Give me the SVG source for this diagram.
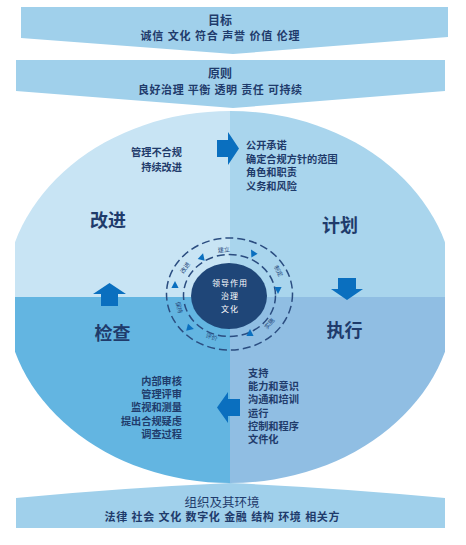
<svg xmlns="http://www.w3.org/2000/svg" width="466" height="545" viewBox="0 0 466 545">
<style>
text{font-family:"Liberation Sans","Noto Sans CJK SC",sans-serif;fill:#1f3b6b}
.ban{fill:#a0d0eb}
.t{font-size:12px;font-weight:700;text-anchor:middle}
.st{font-size:11px;font-weight:700;text-anchor:middle}
.big{font-size:18px;font-weight:700;text-anchor:middle}
.li{font-size:10.2px;font-weight:700}
.r{text-anchor:end}
.arr{fill:#0a6fbf}
.ring{fill:none;stroke:#2b4d80;stroke-width:1.5;stroke-dasharray:8 4}
.rl{font-size:6px;fill:#23467a;text-anchor:middle}
.ct{font-size:8px;fill:#ffffff;text-anchor:middle;letter-spacing:1px}
.tri{fill:#0a6fbf}
</style>
<defs>
<clipPath id="clip"><rect x="15" y="100" width="430" height="400"/></clipPath>
<path id="tr" d="M4,0 L-3,-3.6 L-3,3.6 Z"/>
</defs>
<rect width="466" height="545" fill="#ffffff"/>
<g id="goal">
<polygon class="ban" points="21,7 448,7 448,37 233,54 21,38"/>
<text class="t" x="220" y="24.5">目标</text>
<text class="st" x="220" y="40" textLength="159" lengthAdjust="spacing">诚信 文化 符合 声誉 价值 伦理</text>
</g>
<g id="principle">
<polygon class="ban" points="16,60 445,60 445,91 233,108 16,91"/>
<text class="t" x="220" y="77.5">原则</text>
<text class="st" x="220" y="94" textLength="164" lengthAdjust="spacing">良好治理 平衡 透明 责任 可持续</text>
</g>
<g id="context">
<path class="ban" d="M16,498 Q120,488 230,483 Q340,488 445,498 L445,528 L16,528 Z"/>
<text x="222" y="506.5" style="font-size:12.5px;text-anchor:middle">组织及其环境</text>
<text class="st" x="222" y="521" textLength="235" lengthAdjust="spacing">法律 社会 文化 数字化 金融 结构 环境 相关方</text>
</g>
<g id="cycle" clip-path="url(#clip)">
<path d="M230,297 L5,297 A225,186 0 0 1 230,111 Z" fill="#c8e4f4"/>
<path d="M230,297 L230,111 A225,186 0 0 1 455,297 Z" fill="#a9d5ed"/>
<path d="M230,297 L455,297 A225,186 0 0 1 230,483 Z" fill="#90bee3"/>
<path d="M230,297 L230,483 A225,186 0 0 1 5,297 Z" fill="#63b5e1"/>
</g>
<g id="improve">
<text class="big" x="108" y="226.5">改进</text>
<text class="li r" x="182" y="156">管理不合规</text>
<text class="li r" x="182" y="171">持续改进</text>
</g>
<g id="plan">
<text class="big" x="340" y="231.5">计划</text>
<text class="li" x="246" y="149">公开承诺</text>
<text class="li" x="246" y="162.5">确定合规方针的范围</text>
<text class="li" x="246" y="176">角色和职责</text>
<text class="li" x="246" y="189.5">义务和风险</text>
</g>
<g id="do">
<text class="big" x="344.5" y="336.5">执行</text>
<text class="li" x="248" y="377">支持</text>
<text class="li" x="248" y="390.2">能力和意识</text>
<text class="li" x="248" y="403.4">沟通和培训</text>
<text class="li" x="248" y="416.6">运行</text>
<text class="li" x="248" y="429.8">控制和程序</text>
<text class="li" x="248" y="443">文件化</text>
</g>
<g id="check">
<text class="big" x="112.5" y="339.5">检查</text>
<text class="li r" x="182" y="385">内部审核</text>
<text class="li r" x="182" y="398.2">管理评审</text>
<text class="li r" x="182" y="411.4">监视和测量</text>
<text class="li r" x="182" y="424.6">提出合规疑虑</text>
<text class="li r" x="182" y="437.8">调查过程</text>
</g>
<g id="connectors">
<polygon class="arr" points="217,140 228,140 228,132 239,148.5 228,165 228,157 217,157"/>
<polygon class="arr" points="338,278 356,278 356,289 363,289 347,300 331,289 338,289"/>
<polygon class="arr" points="240,399 228,399 228,392 217,407.5 228,423 228,416 240,416"/>
<polygon class="arr" points="109.5,283 126,294 118,294 118,306 101,306 101,294 93,294"/>
</g>
<g id="core">
<ellipse class="ring" cx="229.5" cy="294" rx="63" ry="56"/>
<ellipse class="ring" cx="229.5" cy="295.5" rx="46" ry="41"/>
<ellipse cx="229" cy="296" rx="38" ry="33" fill="#1f4678"/>
<text class="ct" x="230" y="286">领导作用</text>
<text class="ct" x="230" y="299">治理</text>
<text class="ct" x="230" y="312">文化</text>
<text class="rl" transform="translate(224,252) rotate(-5)">建立</text>
<text class="rl" transform="translate(276.5,272) rotate(62)">制定</text>
<text class="rl" transform="translate(271,325) rotate(-50)">实施</text>
<text class="rl" transform="translate(211,339) rotate(20)">评价</text>
<text class="rl" transform="translate(177,308) rotate(75)">保持</text>
<text class="rl" transform="translate(187,269) rotate(-55)">改进</text>
<use href="#tr" class="tri" transform="translate(202,257) rotate(-75)"/>
<use href="#tr" class="tri" transform="translate(253,253) rotate(-120)"/>
<use href="#tr" class="tri" transform="translate(278,290) rotate(90)"/>
<use href="#tr" class="tri" transform="translate(250,333) rotate(-90)"/>
<use href="#tr" class="tri" transform="translate(190,328) rotate(15)"/>
<use href="#tr" class="tri" transform="translate(175,285) rotate(-90)"/>
</g>
</svg>
